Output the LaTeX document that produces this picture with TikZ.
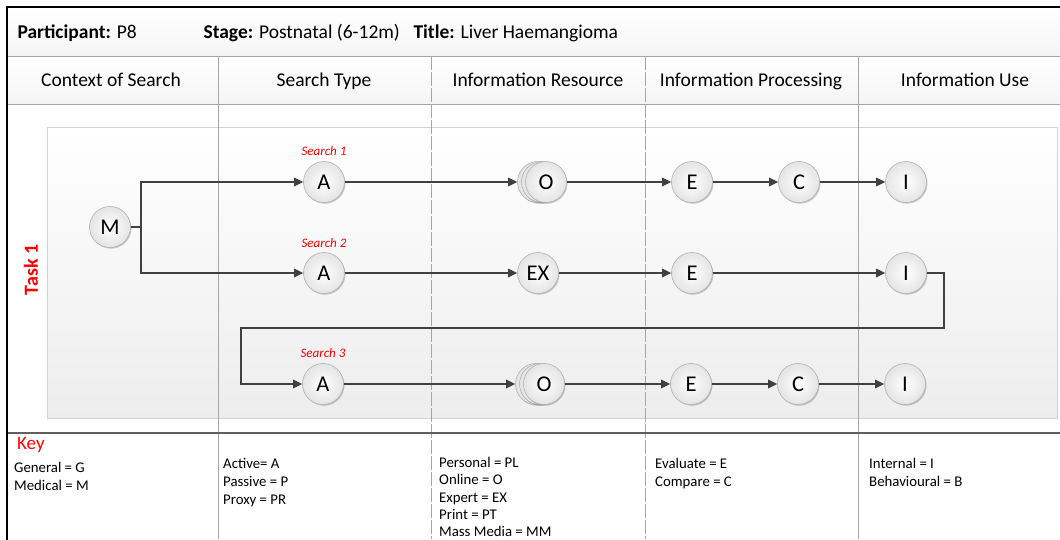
\documentclass[tikz,border=0pt]{standalone}
\usepackage{fontspec}
\setmainfont{Carlito}
\usetikzlibrary{shadows,arrows.meta}

\definecolor{rulegray}{HTML}{A6A6A6}
\definecolor{linkgray}{HTML}{404040}
\definecolor{keyred}{HTML}{FF0000}
\definecolor{lanegray}{HTML}{EDEDED}
\definecolor{ballrim}{HTML}{B0B0B0}
\definecolor{ballshade}{HTML}{E4E4E4}

\tikzset{
  ball/.style={circle, minimum size=41pt, inner sep=0pt, draw=ballrim, line width=0.6pt,
    inner color=white, outer color=ballshade,
    drop shadow={shadow xshift=1pt, shadow yshift=-1.2pt, opacity=0.2, fill=black},
    font=\fontsize{22.5}{26}\selectfont},
  link/.style={draw=linkgray, line width=1.3pt, -{Triangle[length=9pt,width=8.5pt]}},
  plainlink/.style={draw=linkgray, line width=1.3pt},
  colrule/.style={draw=rulegray, line width=0.8pt},
  dashrule/.style={draw=rulegray, line width=0.8pt, dash pattern=on 14pt off 2pt},
  headtxt/.style={anchor=base, font=\fontsize{19.5}{23}\selectfont},
  toptxt/.style={anchor=base west, font=\fontsize{19.5}{23}\selectfont},
  searchlbl/.style={text=keyred, font=\fontsize{13}{15}\selectfont\itshape},
  keytxt/.style={anchor=base west, inner sep=0pt, font=\fontsize{14.8}{17}\selectfont}
}

\begin{document}
\begin{tikzpicture}[x=1pt,y=-1pt]
\useasboundingbox (0,0) rectangle (1060,539);
\fill[white] (0,0) rectangle (1060,539);

% title band and column header band
\shade[top color=white, bottom color=gray!8] (7,7) rectangle (1060,56);
\shade[top color=white, bottom color=gray!8] (7,56) rectangle (1060,104);

% swimlane of task 1
\shade[top color=white, bottom color=lanegray, draw=gray!35, line width=0.6pt] (47,127) rectangle (1057,418);

% column separators
\draw[colrule] (218,56) -- (218,539);
\draw[dashrule] (431,56) -- (431,539);
\draw[dashrule] (645,56) -- (645,539);
\draw[colrule] (858,56) -- (858,539);

% horizontal rules
\draw[colrule] (7,56) -- (1060,56);
\draw[colrule] (7,104) -- (1060,104);
\draw[draw=gray!75!black, line width=1.4pt] (7,433) -- (1060,433);

% outer frame
\draw[line width=2.2pt, line cap=rect] (7,539) -- (7,7) -- (1060,7);

% title band text
\node[toptxt] (part) at (14,38.5) {\bfseries Participant:\mdseries{} P8};
\node[toptxt] (stage) at (200,38.5) {\bfseries Stage:\mdseries{} Postnatal (6-12m)};
\node[toptxt] (title) at (410,38.5) {\bfseries Title:\mdseries{} Liver Haemangioma};

% column headers
\node[headtxt] (h1) at (111,86.5) {Context of Search};
\node[headtxt] (h2) at (324,86.5) {Search Type};
\node[headtxt] (h3) at (538,86.5) {Information Resource};
\node[headtxt] (h4) at (751,86.5) {Information Processing};
\node[headtxt] (h5) at (965,86.5) {Information Use};

% lane label
\node[rotate=90, text=keyred, font=\bfseries\fontsize{20}{24}\selectfont] (task) at (31,270) {Task 1};

% search labels
\node[searchlbl] (s1) at (324,151) {Search 1};
\node[searchlbl] (s2) at (324,243) {Search 2};
\node[searchlbl] (s3) at (323,353) {Search 3};

% stages
\node[ball] (M) at (110,227) {M};

\node[ball] (A1) at (324,182) {A};
\node[ball] (O1c) at (538,182) {};
\node[ball] (O1b) at (542,182) {};
\node[ball] (O1) at (546,182) {O};
\node[ball] (E1) at (692,182) {E};
\node[ball] (C1) at (799,182) {C};
\node[ball] (I1) at (906,182) {I};

\node[ball] (A2) at (324,273) {A};
\node[ball] (EX) at (538,273) {EX};
\node[ball] (E2) at (692,273) {E};
\node[ball] (I2) at (906,273) {I};

\node[ball] (A3) at (323,384) {A};
\node[ball] (O3c) at (536,384) {};
\node[ball] (O3b) at (540,384) {};
\node[ball] (O3) at (544,384) {O};
\node[ball] (E3) at (691,384) {E};
\node[ball] (C3) at (798,384) {C};
\node[ball] (I3) at (905,384) {I};

% connectors
\coordinate (split) at (141,227);
\coordinate (turnR) at (944,328);
\coordinate (turnL) at (241,328);

\draw[plainlink] (M) -- (split);
\draw[link] (split) |- (A1);
\draw[link] (split) |- (A2);

\draw[link] (A1) -- (O1c);
\draw[link] (O1) -- (E1);
\draw[link] (E1) -- (C1);
\draw[link] (C1) -- (I1);

\draw[link] (A2) -- (EX);
\draw[link] (EX) -- (E2);
\draw[link] (E2) -- (I2);

\draw[link] (I2.east) -| (turnR) -- (turnL) |- (A3);

\draw[link] (A3) -- (O3c);
\draw[link] (O3) -- (E3);
\draw[link] (E3) -- (C3);
\draw[link] (C3) -- (I3);

% key
\node[anchor=base west, inner sep=0pt, text=keyred, font=\fontsize{19}{22}\selectfont] (key) at (17,449.5) {Key};

\node[keytxt] (k11) at (14,472) {General = G};
\node[keytxt] (k12) at (14,490) {Medical = M};

\node[keytxt] (k21) at (223,468) {Active= A};
\node[keytxt] (k22) at (223,486) {Passive = P};
\node[keytxt] (k23) at (223,504) {Proxy = PR};

\node[keytxt] (k31) at (439,467) {Personal = PL};
\node[keytxt] (k32) at (439,484.5) {Online = O};
\node[keytxt] (k33) at (439,502) {Expert = EX};
\node[keytxt] (k34) at (439,519.5) {Print = PT};
\node[keytxt] (k35) at (439,536) {Mass Media = MM};

\node[keytxt] (k41) at (655,468) {Evaluate = E};
\node[keytxt] (k42) at (655,486) {Compare = C};

\node[keytxt] (k51) at (869,468) {Internal = I};
\node[keytxt] (k52) at (869,486) {Behavioural = B};
\end{tikzpicture}
\end{document}
